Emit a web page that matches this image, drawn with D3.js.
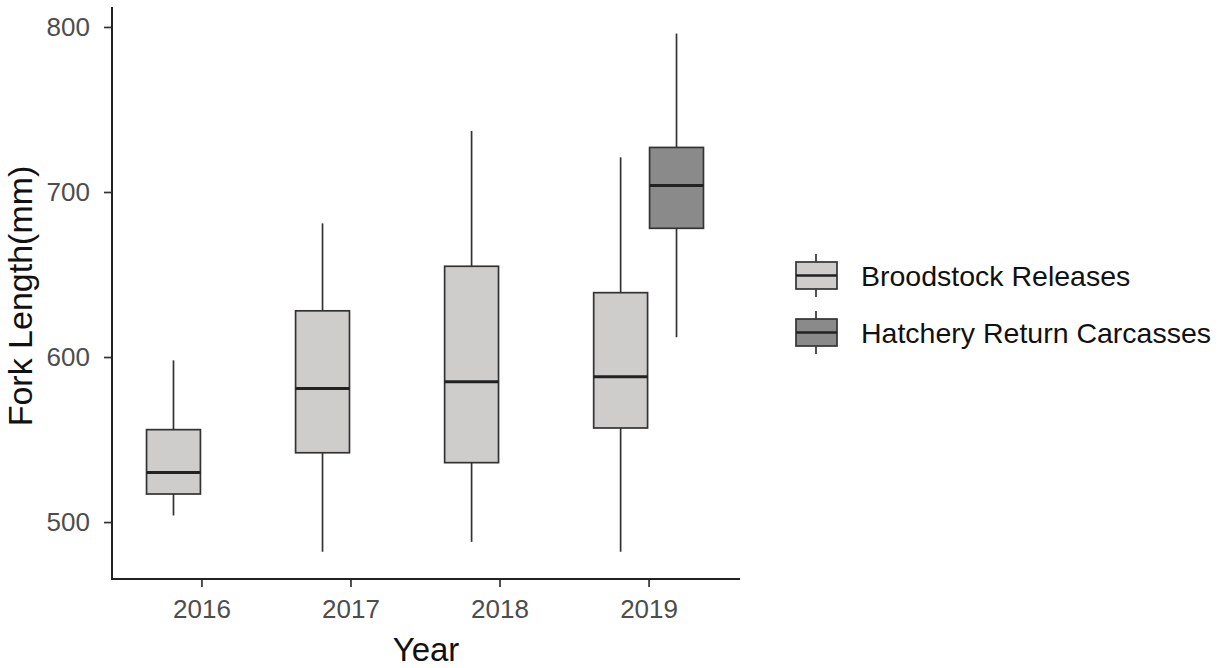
<!DOCTYPE html>
<html>
<head>
<meta charset="utf-8">
<script src="https://cdn.jsdelivr.net/npm/d3@7"></script>
<style>
  body { margin: 0; background: #fff; }
  svg { display: block; font-family: "Liberation Sans", Arial, sans-serif; }
</style>
</head>
<body>
<svg id="chart" width="1225" height="668"></svg>
<script>
// Fork length summaries by release year and fish group
const years = ["2016", "2017", "2018", "2019"];
const groups = ["Broodstock Releases", "Hatchery Return Carcasses"];
const groupColors = ["#cfcccc", "#8b8a8a"];

// five-number summaries: [lower whisker, Q1, median, Q3, upper whisker]
const broodstock = [
  [504, 517, 530, 556, 598],
  [482, 542, 581, 628, 681],
  [488, 536, 585, 655, 737],
  [482, 557, 588, 639, 721]
];
const hatchery = [
  null, null, null,
  [612, 678, 704, 727, 796]
];
const yTicks = [500, 600, 700, 800];

const svg = d3.select("#chart");
const plotLeft = 112, plotRight = 738, plotTop = 7, plotBottom = 579;

const x = d3.scalePoint().domain(years).range([plotLeft, plotRight]).padding(0.6);
const dodgeWidth = x.step() * 0.75;
const xSub = d3.scaleBand().domain(groups).range([-dodgeWidth / 2, dodgeWidth / 2]);
const y = d3.scaleLinear().domain([465.5, 812.1]).range([plotBottom, plotTop]);

const rows = [];
years.forEach((yr, i) => {
  [broodstock, hatchery].forEach((series, g) => {
    const s = series[i];
    if (s) rows.push({ year: yr, group: groups[g], color: groupColors[g], lo: s[0], q1: s[1], med: s[2], q3: s[3], hi: s[4] });
  });
});

const stroke = "#333333";
const boxes = svg.append("g").selectAll("g").data(rows).join("g");
const cx = d => x(d.year) + xSub(d.group) + xSub.bandwidth() / 2;

boxes.append("line")
  .attr("x1", cx).attr("x2", cx)
  .attr("y1", d => y(d.q3)).attr("y2", d => y(d.hi))
  .attr("stroke", stroke).attr("stroke-width", 1.7);
boxes.append("line")
  .attr("x1", cx).attr("x2", cx)
  .attr("y1", d => y(d.q1)).attr("y2", d => y(d.lo))
  .attr("stroke", stroke).attr("stroke-width", 1.7);
boxes.append("rect")
  .attr("x", d => x(d.year) + xSub(d.group) + 1)
  .attr("width", xSub.bandwidth() - 2)
  .attr("y", d => y(d.q3))
  .attr("height", d => y(d.q1) - y(d.q3))
  .attr("fill", d => d.color)
  .attr("stroke", stroke).attr("stroke-width", 1.7);
boxes.append("line")
  .attr("x1", d => x(d.year) + xSub(d.group) + 1)
  .attr("x2", d => x(d.year) + xSub(d.group) + xSub.bandwidth() - 1)
  .attr("y1", d => y(d.med)).attr("y2", d => y(d.med))
  .attr("stroke", "#222").attr("stroke-width", 3);

// axes
const yAxis = svg.append("g")
  .attr("transform", `translate(${plotLeft},0)`)
  .call(d3.axisLeft(y).tickValues(yTicks).tickSize(8).tickPadding(14));
const xAxis = svg.append("g")
  .attr("transform", `translate(0,${plotBottom})`)
  .call(d3.axisBottom(x).tickSize(8).tickPadding(13));

[yAxis, xAxis].forEach(a => {
  a.select(".domain").remove();
  a.selectAll(".tick line").attr("stroke", stroke).attr("stroke-width", 1.7);
  a.selectAll(".tick text").attr("fill", "#4d4d4d").style("font-size", "26px").style("font-family", "Liberation Sans, Arial, sans-serif");
});
svg.append("line").attr("x1", plotLeft).attr("x2", plotLeft).attr("y1", plotTop).attr("y2", plotBottom + 1)
  .attr("stroke", "#222").attr("stroke-width", 2);
svg.append("line").attr("x1", plotLeft - 1).attr("x2", plotRight + 2).attr("y1", plotBottom).attr("y2", plotBottom)
  .attr("stroke", "#222").attr("stroke-width", 2);

// axis titles
svg.append("text")
  .attr("x", (plotLeft + plotRight) / 2 + 1).attr("y", 661)
  .attr("text-anchor", "middle")
  .style("font-size", "33px").attr("fill", "#111")
  .text("Year");
svg.append("text")
  .attr("transform", "translate(32,296) rotate(-90)")
  .attr("text-anchor", "middle")
  .style("font-size", "34px").attr("fill", "#111")
  .text("Fork Length(mm)");

// legend
const legend = svg.append("g").attr("transform", "translate(795,254)");
const keyH = 57;
groups.forEach((g, i) => {
  const k = legend.append("g").attr("transform", `translate(0,${i * keyH})`);
  k.append("line").attr("x1", 21).attr("x2", 21).attr("y1", 0).attr("y2", 8).attr("stroke", stroke).attr("stroke-width", 1.7);
  k.append("line").attr("x1", 21).attr("x2", 21).attr("y1", 35).attr("y2", 43).attr("stroke", stroke).attr("stroke-width", 1.7);
  k.append("rect").attr("x", 1).attr("y", 8).attr("width", 41).attr("height", 27)
    .attr("fill", groupColors[i]).attr("stroke", stroke).attr("stroke-width", 1.7);
  k.append("line").attr("x1", 1).attr("x2", 42).attr("y1", 21.5).attr("y2", 21.5).attr("stroke", "#222").attr("stroke-width", 2.5);
  k.append("text").attr("x", 66).attr("y", 32)
    .style("font-size", "28.5px").attr("fill", "#111")
    .text(g);
});
</script>
</body>
</html>
